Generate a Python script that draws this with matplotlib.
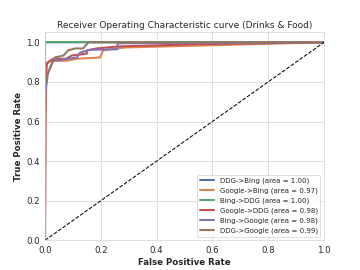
import numpy as np
import matplotlib
matplotlib.use("Agg")
import matplotlib.pyplot as plt
import seaborn as sns

sns.set_style("whitegrid")
plt.rcParams['font.family'] = ['DejaVu Sans']

labels = ["DDG->Bing", "Google->Bing", "Bing->DDG", "Google->DDG", "Bing->Google", "DDG->Google"]
areas = [1.00, 0.97, 1.00, 0.98, 0.98, 0.99]

fpr_ddg_bing = [0.0, 0.0, 0.002, 1.0]
tpr_ddg_bing = [0.0, 0.99, 1.0, 1.0]

fpr_google_bing = [0.0, 0.002, 0.006, 0.018, 0.077, 0.115, 0.197, 0.208, 0.258, 0.29, 0.68, 1.0]
tpr_google_bing = [0.0, 0.60, 0.897, 0.905, 0.907, 0.917, 0.923, 0.959, 0.969, 0.974, 0.988, 1.0]

fpr_bing_ddg = [0.0, 0.0, 1.0]
tpr_bing_ddg = [0.0, 1.0, 1.0]

fpr_google_ddg = [0.0, 0.001, 0.006, 0.018, 0.029, 0.077, 0.095, 0.15, 0.15, 0.185, 0.26, 0.53, 1.0]
tpr_google_ddg = [0.0, 0.80, 0.89, 0.907, 0.917, 0.917, 0.933, 0.943, 0.959, 0.969, 0.979, 0.99, 1.0]

fpr_bing_google = [0.0, 0.001, 0.011, 0.029, 0.115, 0.125, 0.16, 0.26, 0.26, 1.0]
tpr_bing_google = [0.0, 0.75, 0.845, 0.907, 0.923, 0.948, 0.962, 0.965, 0.995, 1.0]

fpr_ddg_google = [0.0, 0.0, 0.006, 0.018, 0.029, 0.036, 0.066, 0.072, 0.083, 0.108, 0.137, 0.155, 1.0]
tpr_ddg_google = [0.0, 0.78, 0.83, 0.87, 0.907, 0.924, 0.933, 0.943, 0.959, 0.969, 0.969, 1.0, 1.0]

fprs = [fpr_ddg_bing, fpr_google_bing, fpr_bing_ddg, fpr_google_ddg, fpr_bing_google, fpr_ddg_google]
tprs = [tpr_ddg_bing, tpr_google_bing, tpr_bing_ddg, tpr_google_ddg, tpr_bing_google, tpr_ddg_google]

colors = sns.color_palette("deep")

fig = plt.figure(figsize=(6.4, 4.8), dpi=56.25)
for i in range(len(labels)):
    plt.plot(fprs[i], tprs[i], color=colors[i], lw=2.6,
             label="%s (area = %0.2f)" % (labels[i], areas[i]))
plt.plot([0, 1], [0, 1], "k--", lw=1.3)
plt.xlim([0.0, 1.0])
plt.ylim([0.0, 1.05])
plt.xlabel("False Positive Rate", fontsize=11, fontweight="bold")
plt.ylabel("True Positive Rate", fontsize=11, fontweight="bold")
plt.title("Receiver Operating Characteristic curve (Drinks & Food)", fontsize=11.5)
plt.xticks(fontsize=11)
plt.yticks(fontsize=11)
plt.legend(loc="lower right", fontsize=9)
plt.savefig("out.png", dpi=56.25)
